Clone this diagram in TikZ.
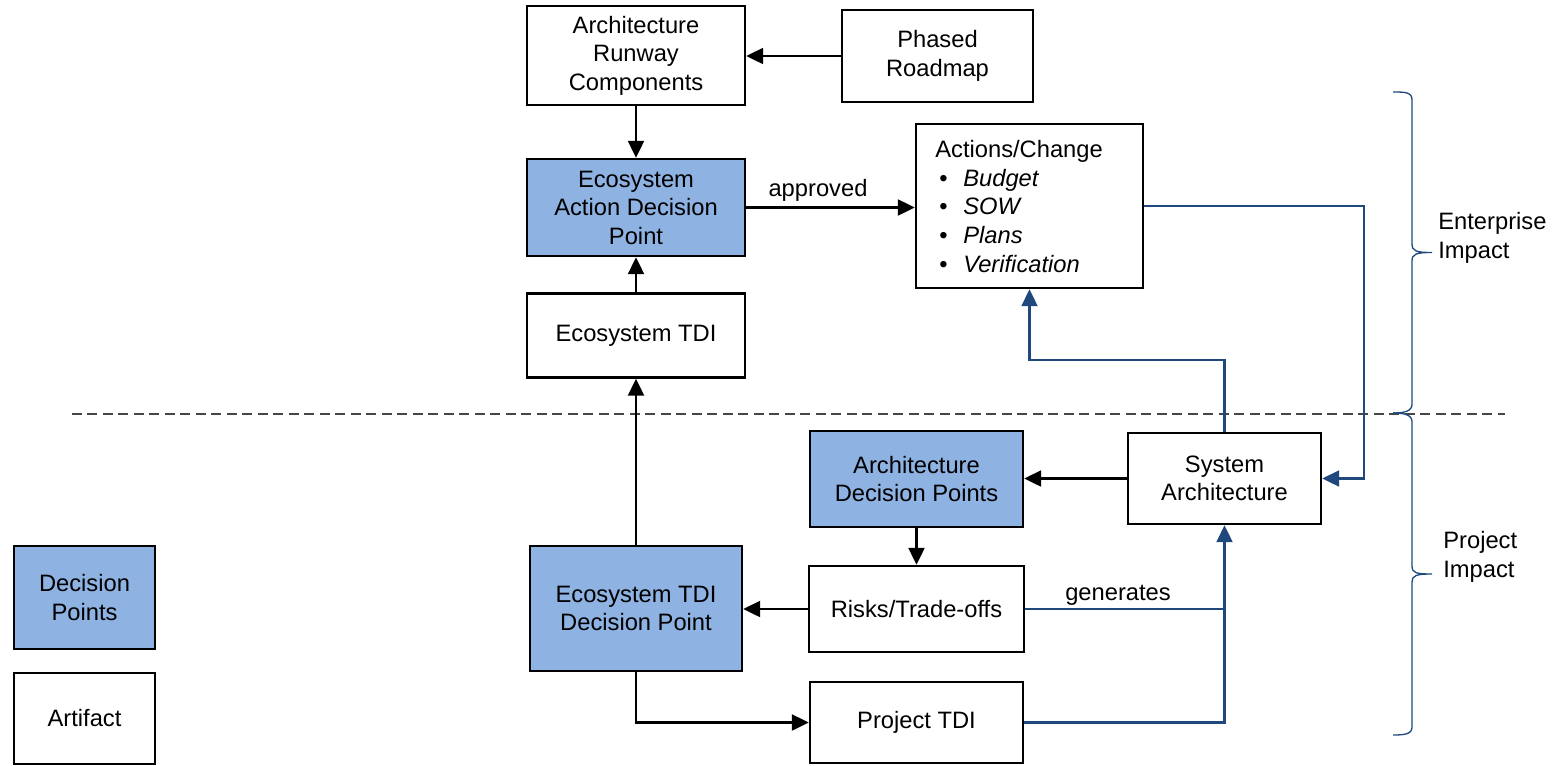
\documentclass[tikz,border=0pt]{standalone}
\usepackage{fontspec}
\setmainfont{Liberation Sans}
\usetikzlibrary{arrows.meta}
\definecolor{dpblue}{RGB}{142,178,226}
\definecolor{lnblue}{RGB}{31,73,125}
\definecolor{dashgray}{RGB}{70,70,70}
\begin{document}
\begin{tikzpicture}[x=0.02cm,y=-0.02cm,
  every node/.style={font=\fontsize{13.5}{16.2}\selectfont},
  box/.style={draw=black,line width=1.4pt,rectangle,inner sep=0pt,align=center,fill=white},
  dpbox/.style={box,fill=dpblue},
  blk/.style={line width=1.3pt,-{Triangle[length=0.34cm,width=0.32cm]}},
  blu/.style={draw=lnblue,line width=1.25pt,-{Triangle[length=0.34cm,width=0.32cm]}},
  bluline/.style={draw=lnblue,line width=1.25pt},
  brace/.style={draw=lnblue,line width=0.75pt},
  lbl/.style={inner sep=0pt}
]
\useasboundingbox (0,0) rectangle (1554,765);
% dashed separator
\draw[dashgray,line width=0.75pt,dash pattern=on 0.2cm off 0.11cm] (72,414) -- (1505,414);
% nodes
\node[box,minimum width=4.36cm,minimum height=1.98cm] (arc) at (636,55.5) {Architecture\\Runway\\Components};
\node[box,minimum width=3.82cm,minimum height=1.84cm] (pr) at (937.5,56) {Phased\\Roadmap};
\node[dpbox,minimum width=4.36cm,minimum height=1.94cm] (eadp) at (636,207.5) {Ecosystem\\Action Decision\\Point};
\node[box,minimum width=4.36cm,minimum height=1.68cm] (etdi) at (636,335.5) {Ecosystem TDI};
\node[box,minimum width=4.54cm,minimum height=3.28cm] (act) at (1029.5,206) {};
\node[lbl,anchor=north west,align=left,font=\fontsize{13.5}{16.3}\selectfont] (acttxt) at (935,140) {Actions/Change\\
\makebox[0.56cm][l]{\,\textbullet}\textit{Budget}\\
\makebox[0.56cm][l]{\,\textbullet}\textit{SOW}\\
\makebox[0.56cm][l]{\,\textbullet}\textit{Plans}\\
\makebox[0.56cm][l]{\,\textbullet}\textit{Verification}};
\node[dpbox,minimum width=4.26cm,minimum height=1.92cm] (adp) at (916.5,479) {Architecture\\Decision Points};
\node[box,minimum width=3.86cm,minimum height=1.82cm] (sa) at (1224.5,478.5) {System\\Architecture};
\node[box,minimum width=4.3cm,minimum height=1.72cm] (risks) at (916.5,609) {Risks/Trade-offs};
\node[dpbox,minimum width=4.24cm,minimum height=2.5cm] (etdidp) at (636,608.5) {Ecosystem TDI\\Decision Point};
\node[box,minimum width=4.26cm,minimum height=1.62cm] (ptdi) at (916.5,722.5) {Project TDI};
\node[dpbox,minimum width=2.82cm,minimum height=2.06cm] (ldp) at (84.5,597.5) {Decision\\Points};
\node[box,minimum width=2.82cm,minimum height=1.82cm] (lart) at (84.5,718.5) {Artifact};
% black connectors
\draw[blk] (pr.west) -- (pr.west -| arc.east);
\draw[blk] (arc.south) -- (eadp.north);
\draw[blk] (etdi.north) -- (eadp.south);
\draw[blk] (eadp.east) -- (eadp.east -| act.west);
\node[lbl] (appr) at (818,190) {approved};
\draw[blk] (etdidp.north) -- (etdi.south);
\draw[blk] (sa.west) -- (sa.west -| adp.east);
\draw[blk] (adp.south) -- (risks.north);
\draw[blk] (risks.west) -- (risks.west -| etdidp.east);
\draw[blk] (etdidp.south) |- (ptdi.west);
% blue connectors
\coordinate (rj) at (1364,478.5);
\coordinate (mj) at (1224.5,360);
\coordinate (gj) at (1224.5,609);
\draw[blu] (act.east) -| (rj) -- (sa.east);
\draw[blu] (sa.north) -- (mj) -| (act.south);
\draw[bluline] (risks.east) -- (gj);
\node[lbl] (gen) at (1118,595) {generates};
\draw[blu] (ptdi.east) -| (sa.south);
% braces
\draw[brace] (1393,92) .. controls (1405,92) and (1412,92) .. (1412,100)
  -- (1412,244) .. controls (1412,251) and (1416,252.5) .. (1432,252.5)
  .. controls (1416,252.5) and (1412,254) .. (1412,261)
  -- (1412,404) .. controls (1412,411) and (1405,413) .. (1393,413);
\draw[brace] (1393,413) .. controls (1405,413) and (1412,415) .. (1412,422)
  -- (1412,566) .. controls (1412,573) and (1416,574) .. (1432,574)
  .. controls (1416,574) and (1412,575.5) .. (1412,582)
  -- (1412,727) .. controls (1412,734) and (1405,735) .. (1393,735);
\node[lbl,anchor=west,align=left] (ent) at (1438,238) {Enterprise\\Impact};
\node[lbl,anchor=west,align=left] (prj) at (1443,557) {Project\\Impact};
\end{tikzpicture}
\end{document}
